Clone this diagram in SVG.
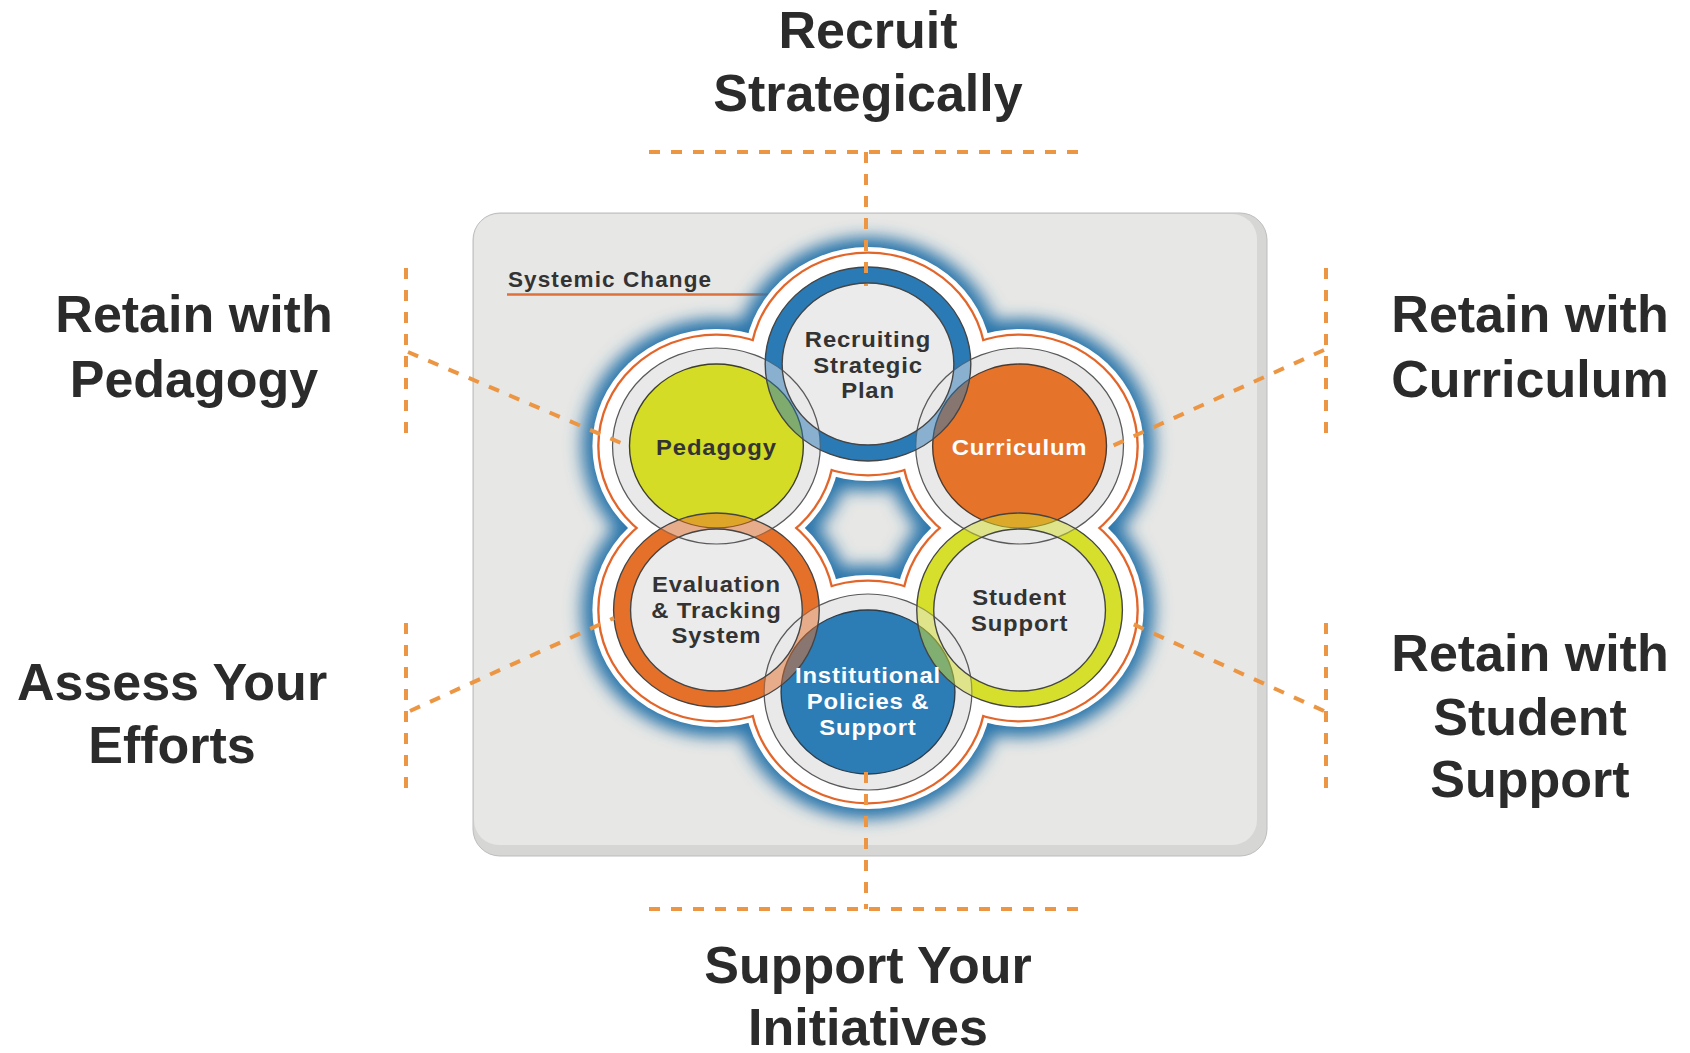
<svg xmlns="http://www.w3.org/2000/svg" width="1690" height="1053" viewBox="0 0 1690 1053">
<defs>
<style>
.title{font-family:"Liberation Sans",Arial,sans-serif;font-weight:bold;font-size:52px;fill:#2b2b2b;text-anchor:middle}
.lbl{font-family:"Liberation Sans",Arial,sans-serif;font-weight:bold;font-size:22.5px;letter-spacing:0.8px;text-anchor:middle;fill:#333333}
.lblw{font-family:"Liberation Sans",Arial,sans-serif;font-weight:bold;font-size:22.5px;letter-spacing:0.8px;text-anchor:middle;fill:#ffffff}
.dash{stroke:#ec9643;stroke-width:4;fill:none;stroke-dasharray:11 11}
.ol{fill:none;stroke:#454545;stroke-width:1.3}
.gray{fill:#e9e9e9;stroke:#5a5a5a;stroke-width:1.2}
</style>
<filter id="glow" x="-30%" y="-30%" width="160%" height="160%"><feGaussianBlur stdDeviation="8"/></filter>
</defs>
<rect width="1690" height="1053" fill="#ffffff"/>
<g id="panel">
<rect x="473" y="213" width="794" height="643" rx="27" fill="#d6d6d5" stroke="#bdbdbd" stroke-width="1"/>
<rect x="474" y="214" width="783" height="631" rx="25" fill="#e7e7e5"/>
</g>
<g id="systemic-change">
<text x="508" y="287" font-family="Liberation Sans, Arial, sans-serif" font-weight="bold" font-size="22.5" fill="#333" textLength="203" lengthAdjust="spacing">Systemic Change</text>
<line x1="507" y1="294.5" x2="768" y2="294.5" stroke="#e0703a" stroke-width="2.5"/>
</g>
<g id="cluster" transform="translate(868,528) scale(1.06,1)">
<g filter="url(#glow)" fill="#2a76ab">
<circle cx="0" cy="-164" r="127"/><circle cx="143" cy="-82" r="127"/><circle cx="143" cy="82" r="127"/><circle cx="0" cy="164" r="127"/><circle cx="-143" cy="82" r="127"/><circle cx="-143" cy="-82" r="127"/>
</g>
<g fill="#ffffff">
<circle cx="0" cy="-164" r="117"/><circle cx="143" cy="-82" r="117"/><circle cx="143" cy="82" r="117"/><circle cx="0" cy="164" r="117"/><circle cx="-143" cy="82" r="117"/><circle cx="-143" cy="-82" r="117"/>
</g>
<g fill="#e2652a">
<circle cx="0" cy="-164" r="112.5"/><circle cx="143" cy="-82" r="112.5"/><circle cx="143" cy="82" r="112.5"/><circle cx="0" cy="164" r="112.5"/><circle cx="-143" cy="82" r="112.5"/><circle cx="-143" cy="-82" r="112.5"/>
</g>
<g fill="#ffffff">
<circle cx="0" cy="-164" r="110.3"/><circle cx="143" cy="-82" r="110.3"/><circle cx="143" cy="82" r="110.3"/><circle cx="0" cy="164" r="110.3"/><circle cx="-143" cy="82" r="110.3"/><circle cx="-143" cy="-82" r="110.3"/>
</g>
<g id="node-recruiting">
<circle cx="0" cy="-164" r="97" fill="#ebebeb"/>
<circle cx="0" cy="-164" r="89" fill="none" stroke="#2a7ab5" stroke-width="16"/>
</g>
<g id="node-evaluation">
<circle cx="-143" cy="82" r="97" fill="#ebebeb"/>
<circle cx="-143" cy="82" r="89" fill="none" stroke="#e5702a" stroke-width="16"/>
</g>
<g id="node-student-support">
<circle cx="143" cy="82" r="97" fill="#ebebeb"/>
<circle cx="143" cy="82" r="89" fill="none" stroke="#d5df2c" stroke-width="16"/>
</g>
<g id="node-pedagogy">
<circle class="gray" cx="-143" cy="-82" r="98"/>
<circle cx="-143" cy="-82" r="82" fill="#d4dc26" stroke="#3d3d2d" stroke-width="1.3"/>
</g>
<g id="node-curriculum">
<circle class="gray" cx="143" cy="-82" r="98"/>
<circle cx="143" cy="-82" r="82" fill="#e5732a" stroke="#4a3a30" stroke-width="1.3"/>
</g>
<g id="node-institutional">
<circle class="gray" cx="0" cy="164" r="98"/>
<circle cx="0" cy="164" r="82" fill="#2c7cb6" stroke="#2d3d4a" stroke-width="1.3"/>
</g>
<g id="ring-overlays">
<circle cx="0" cy="-164" r="89" fill="none" stroke="#2a7ab5" stroke-width="16" opacity="0.5"/>
<circle cx="-143" cy="82" r="89" fill="none" stroke="#e5702a" stroke-width="16" opacity="0.5"/>
<circle cx="143" cy="82" r="89" fill="none" stroke="#d5df2c" stroke-width="16" opacity="0.5"/>
<circle class="ol" cx="0" cy="-164" r="97"/><circle class="ol" cx="0" cy="-164" r="81"/>
<circle class="ol" cx="-143" cy="82" r="97"/><circle class="ol" cx="-143" cy="82" r="81"/>
<circle class="ol" cx="143" cy="82" r="97"/><circle class="ol" cx="143" cy="82" r="81"/>
</g>
<g id="labels">
<text class="lbl" x="0" y="-181">Recruiting</text>
<text class="lbl" x="0" y="-155">Strategic</text>
<text class="lbl" x="0" y="-130">Plan</text>
<text class="lbl" x="-143" y="-73">Pedagogy</text>
<text class="lblw" x="143" y="-73">Curriculum</text>
<text class="lbl" x="-143" y="64">Evaluation</text>
<text class="lbl" x="-143" y="90">&amp; Tracking</text>
<text class="lbl" x="-143" y="115">System</text>
<text class="lbl" x="143" y="77">Student</text>
<text class="lbl" x="143" y="103">Support</text>
<text class="lblw" x="0" y="155">Institutional</text>
<text class="lblw" x="0" y="181">Policies &amp;</text>
<text class="lblw" x="0" y="207">Support</text>
</g>
</g>
<g id="connectors">
<path class="dash" d="M649 152 H1080"/>
<path class="dash" d="M866 152 V286"/>
<path class="dash" d="M649 909 H1080"/>
<path class="dash" d="M866 772 V909"/>
<path class="dash" d="M406 268 V440"/>
<path class="dash" d="M408 352 L628 446"/>
<path class="dash" d="M1326 268 V440"/>
<path class="dash" d="M1324 350 L1110 447"/>
<path class="dash" d="M406 623 V795"/>
<path class="dash" d="M410 711 L614 618"/>
<path class="dash" d="M1326 623 V795"/>
<path class="dash" d="M1324 711 L1124 620"/>
</g>
<g id="titles">
<text class="title" x="868" y="48">Recruit</text>
<text class="title" x="868" y="111">Strategically</text>
<text class="title" x="194" y="332">Retain with</text>
<text class="title" x="194" y="397">Pedagogy</text>
<text class="title" x="1530" y="332">Retain with</text>
<text class="title" x="1530" y="397">Curriculum</text>
<text class="title" x="172" y="700">Assess Your</text>
<text class="title" x="172" y="763">Efforts</text>
<text class="title" x="1530" y="671">Retain with</text>
<text class="title" x="1530" y="735">Student</text>
<text class="title" x="1530" y="797">Support</text>
<text class="title" x="868" y="983">Support Your</text>
<text class="title" x="868" y="1045">Initiatives</text>
</g>
</svg>
